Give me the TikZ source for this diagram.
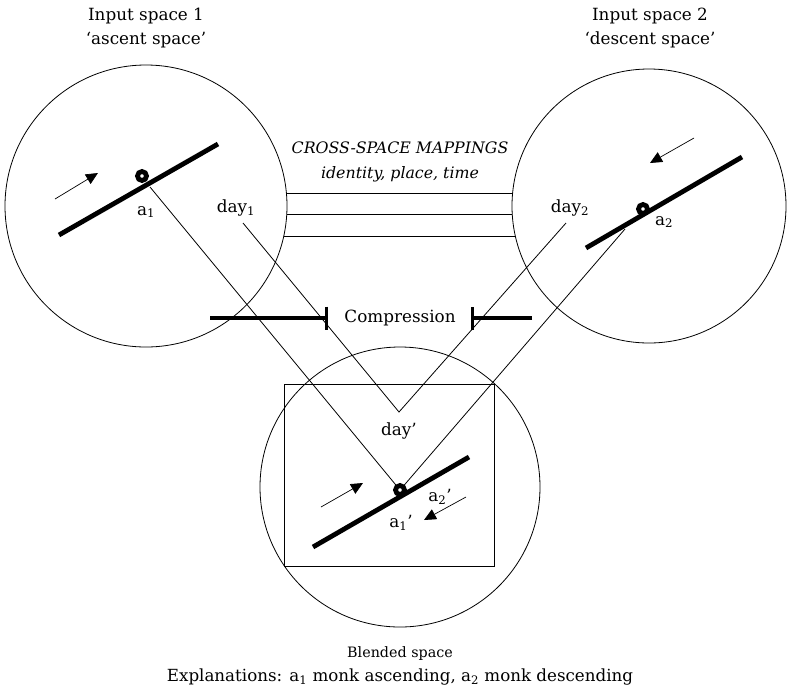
\documentclass[tikz,border=0pt]{standalone}
\usepackage{fontspec}
\setmainfont{DejaVu Serif}
\usetikzlibrary{arrows.meta,calc,positioning}

\tikzset{
  space/.style={draw, circle, inner sep=0pt, outer sep=0pt, line width=0.8pt},
  monk/.style={draw, circle, fill=white, line width=4.8pt, minimum size=9pt, inner sep=0pt},
  slope/.style={line width=4.8pt},
  move/.style={-{Triangle[length=12pt,width=11pt]}, line width=0.7pt},
  link/.style={line width=0.8pt},
  press/.style={line width=3.2pt, -{Bar[width=23pt]}},
  lbl/.style={font=\fontsize{16.8}{24}\selectfont, inner sep=1pt},
  caption/.style={font=\fontsize{14.3}{18}\selectfont, inner sep=1pt},
  note/.style={font=\fontsize{16.7}{20}\selectfont, inner sep=1pt},
}

\begin{document}
\begin{tikzpicture}[x=1pt,y=-1pt]
  \useasboundingbox (0,0) rectangle (787,689);
  % the three spaces
  \node[space, minimum size=282pt] (ascent) at (146,206) {};
  \node[space, minimum size=274pt] (descent) at (649,206) {};
  \node[space, minimum size=280pt] (blend) at (400,487) {};
  \draw[link] (284,384) rectangle (494,566);

  % titles
  \node[lbl, align=center] (in1) at (146,28) {Input space 1\\‘ascent space’};
  \node[lbl, align=center] (in2) at (650,28) {Input space 2\\‘descent space’};
  \node[align=center, font=\fontsize{15.8}{25}\selectfont\itshape] (cross) at (400,162)
    {CROSS-SPACE MAPPINGS\\identity, place, time};

  % cross-space mappings
  \foreach \o in {-13,8,30}
    \draw[link] ($(ascent.center)+({100*sqrt(1.9881-(\o/100)^2)},\o)$)
             -- ($(descent.center)+({-100*sqrt(1.8769-(\o/100)^2)},\o)$);

  % labels inside the spaces
  \node[lbl] (a1) at (146,212) {a\textsubscript{1}};
  \node[lbl] (a2) at (664,222) {a\textsubscript{2}};
  \node[lbl] (a1b) at (401,523) {a\textsubscript{1}’};
  \node[lbl] (a2b) at (440,497) {a\textsubscript{2}’};
  \node[lbl] (day1) at (236,208) {day\textsubscript{1}};
  \node[lbl] (day2) at (570,208) {day\textsubscript{2}};
  \node[lbl] (dayb) at (399,431) {day’};
  \coordinate (vertex) at (399,412);
  \coordinate (d1) at (243,223);
  \coordinate (d2) at (566,223);

  % projections to the blend
  \draw[link] (d1) -- (vertex) -- (d2);
  \coordinate (mbpos) at (400,490);
  \draw[link] (150,187) -- (mbpos);
  \draw[link] (625,229) -- (mbpos);

  % slopes and monks
  \draw[slope] (59,235) -- (218,144);
  \draw[slope] (586,248) -- (742,157);
  \draw[slope] (313,547) -- (469,457);
  \node[monk] (m1) at (142,176) {};
  \node[monk] (m2) at (643,209) {};
  \node[monk] (mb) at (mbpos) {};
  \draw[move] (55,199) -- (98,173);
  \draw[move] (694,138) -- (650,163);
  \draw[move] (321,507) -- (363,483);
  \draw[move] (466,497) -- (424,520);

  % compression
  \node[lbl] (comp) at (400,318) {Compression};
  \coordinate (cl) at (210,318);
  \coordinate (cr) at (532,318);
  \draw[press, shorten >=15pt] (cl) -- (comp.west);
  \draw[press, shorten >=14pt] (cr) -- (comp.east);

  % captions
  \node[caption] (blendlbl) at (400,654) {Blended space};
  \node[note] (expl) at (400,677)
    {Explanations: a\textsubscript{1} monk ascending, a\textsubscript{2} monk descending};
\end{tikzpicture}
\end{document}
